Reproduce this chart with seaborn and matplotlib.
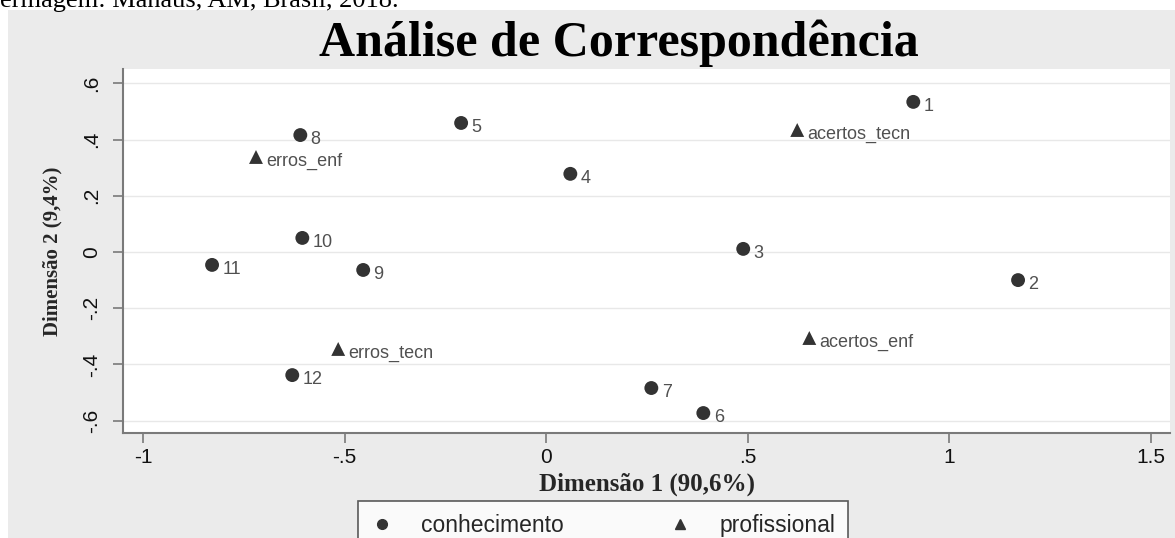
import matplotlib.pyplot as plt
import matplotlib as mpl
from matplotlib.lines import Line2D
import seaborn as sns
import pandas as pd

# categorias e coordenadas
rotulos = ["1", "2", "3", "4", "5", "6", "7", "8", "9", "10", "11", "12",
           "acertos_tecn", "erros_enf", "acertos_enf", "erros_tecn"]
dim1 = [0.911, 1.171, 0.489, 0.060, -0.211, 0.390, 0.261, -0.610, -0.454, -0.605, -0.829, -0.630,
        0.623, -0.720, 0.653, -0.516]
dim2 = [0.534, -0.100, 0.011, 0.278, 0.459, -0.573, -0.484, 0.416, -0.064, 0.050, -0.046, -0.438,
        0.434, 0.338, -0.306, -0.345]
grupo = ["conhecimento"] * 12 + ["profissional"] * 4

xticks = [-1, -0.5, 0, 0.5, 1, 1.5]
xticklabels = ["-1", "-.5", "0", ".5", "1", "1.5"]
yticks = [-0.6, -0.4, -0.2, 0, 0.2, 0.4, 0.6]
yticklabels = ["-.6", "-.4", "-.2", "0", ".2", ".4", ".6"]

df = pd.DataFrame({"rotulo": rotulos, "dim1": dim1, "dim2": dim2, "grupo": grupo})

sns.set_theme(style="white")
plt.rcParams['font.family'] = ['Liberation Sans', 'DejaVu Sans']

fig = plt.figure(figsize=(11.75, 5.38), dpi=100)
fig.patch.set_facecolor("white")
# painel cinza de fundo (estilo Stata)
fig.patches.append(mpl.patches.Rectangle((8 / 1175, 0), 1, 1 - 10 / 538,
                                         transform=fig.transFigure, facecolor="#ebebeb",
                                         edgecolor="none", zorder=-10))

# legenda da figura (cortada no topo, como no original)
fig.text(0.0, 1 - 1 / 538, "ermagem: Manaus, AM, Brasil, 2018.", family="Liberation Serif",
         fontsize=19, ha="left", va="center", color="black")

ax = fig.add_axes([123 / 1175, 1 - 433 / 538, (1170 - 123) / 1175, (433 - 69) / 538])
ax.set_facecolor("white")

cor = "#333333"
sns.scatterplot(data=df, x="dim1", y="dim2", style="grupo",
                markers={"conhecimento": "o", "profissional": "^"},
                color=cor, s=100, edgecolor=cor, linewidth=0, legend=False, ax=ax, zorder=3)

for r, x, y in zip(rotulos, dim1, dim2):
    ax.annotate(r, (x, y), xytext=(7.5, -3), textcoords="offset points",
                fontsize=13, color="#505050", ha="left", va="center")

ax.set_xlim(-1.05, 1.548)
ax.set_ylim(-0.644, 0.651)
ax.set_xticks(xticks)
ax.set_xticklabels(xticklabels)
ax.set_yticks(yticks)
ax.set_yticklabels(yticklabels, rotation=90, va="center")
ax.grid(axis="y", color="#e8e8e8", linewidth=1)
ax.grid(axis="x", visible=False)

for s in ["top", "right"]:
    ax.spines[s].set_visible(False)
for s in ["left", "bottom"]:
    ax.spines[s].set_color("#7a7a7a")
    ax.spines[s].set_linewidth(1.5)
ax.tick_params(axis="both", direction="out", length=7, width=1.2, color="#7a7a7a",
               labelsize=15, labelcolor="#111111", left=True, bottom=True)
ax.tick_params(axis="y", pad=9)
ax.tick_params(axis="x", pad=4)

ax.set_xlabel("Dimensão 1 (90,6%)", family="Liberation Serif", fontweight="bold",
              fontsize=18, labelpad=4)
ax.set_ylabel("Dimensão 2 (9,4%)", family="Liberation Serif", fontweight="bold",
              fontsize=15, labelpad=14)

fig.text(0.527, 1 - 43 / 538, "Análise de Correspondência", family="Liberation Serif",
         fontweight="bold", fontsize=36, ha="center", va="center", color="black")

handles = [Line2D([], [], marker="o", linestyle="none", color=cor, markersize=7),
           Line2D([], [], marker="^", linestyle="none", color=cor, markersize=7)]
leg = fig.legend(handles, ["conhecimento", "profissional"], loc="upper center",
                 bbox_to_anchor=(0.513, 1 - 501 / 538), ncol=2, frameon=True,
                 fontsize=16.5, handlelength=1.0, handletextpad=1.2, columnspacing=4.6,
                 fancybox=False, borderpad=0.55, borderaxespad=0)
leg.get_frame().set_edgecolor("#333333")
leg.get_frame().set_facecolor("white")
leg.get_frame().set_linewidth(1.2)

fig.savefig("out.png", dpi=100)
